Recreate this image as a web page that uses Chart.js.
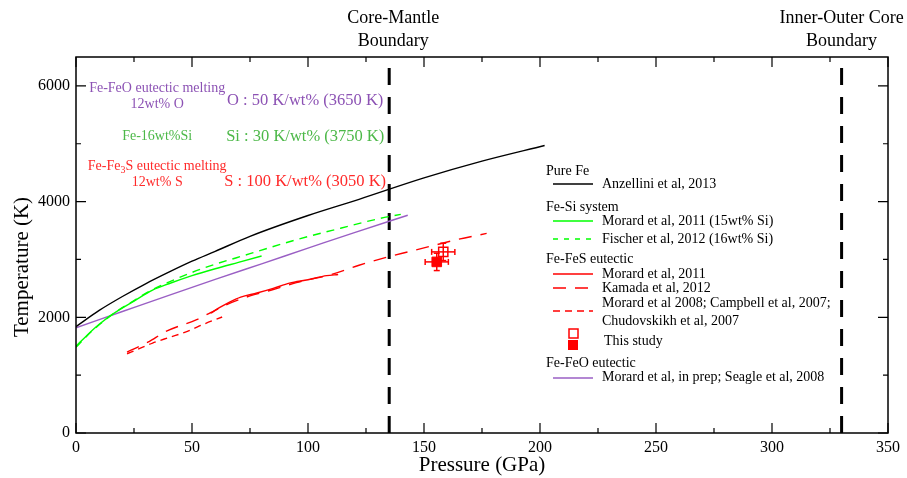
<!DOCTYPE html>
<html>
<head>
<meta charset="utf-8">
<script src="https://cdn.jsdelivr.net/npm/chart.js@4"></script>
<style>
  html, body { margin: 0; background: #fff; }
</style>
</head>
<body>
<canvas id="chart" width="907" height="478"></canvas>
<script>
// --- data (pressure in GPa, temperature in K) ---
const anzelliniP = [0, 10, 20, 30, 40, 50, 60, 75, 100, 122, 150, 175, 202];
const anzelliniT = [1840, 2120, 2360, 2580, 2780, 2970, 3140, 3400, 3760, 4040, 4410, 4700, 4970];

const morardSiP = [0, 5, 10, 16, 25, 33, 40, 50, 60, 70, 80];
const morardSiT = [1500, 1700, 1880, 2060, 2280, 2470, 2580, 2720, 2840, 2950, 3060];

const fischerSiP = [0, 5, 10, 16, 25, 33, 40, 55, 75, 94, 114, 130, 140];
const fischerSiT = [1480, 1690, 1870, 2060, 2290, 2480, 2610, 2850, 3100, 3330, 3540, 3700, 3780];

const morardFeSP = [58, 62, 66, 71, 78, 85, 92, 100, 108, 113];
const morardFeST = [2070, 2170, 2260, 2350, 2420, 2500, 2590, 2650, 2720, 2740];

const kamadaP = [22, 31, 39, 52, 58, 65, 75, 85, 95, 110, 122, 134, 144, 155, 165, 177];
const kamadaT = [1400, 1570, 1760, 1960, 2080, 2220, 2370, 2480, 2600, 2740, 2900, 3040, 3140, 3250, 3350, 3450];

const morard2008P = [22, 28, 33, 40, 48, 55, 63];
const morard2008T = [1370, 1470, 1554, 1650, 1756, 1880, 2005];

const feoP = [0, 20, 40, 60, 80, 100, 120, 143];
const feoT = [1820, 2100, 2380, 2655, 2925, 3195, 3465, 3765];

// this study: [open square, filled square]
const studyP = [158.3, 155.5];
const studyT = [3131, 2958];
const studyErrP = [5, 5];
const studyErrT = [150, 150];

const boundaryP = [135, 330];
const boundaryLabels = [['Core-Mantle', 'Boundary'], ['Inner-Outer Core', 'Boundary']];

const xTicks = [0, 50, 100, 150, 200, 250, 300, 350];
const yTicks = [0, 2000, 4000, 6000];

const SERIF = '"Liberation Serif", "Times New Roman", serif';
const RED = '#ff0000', GREEN = '#00ff00', PURPLE = '#9a5fc4';

const xy = (ps, ts) => ps.map((p, i) => ({ x: p, y: ts[i] }));

function curve(data, color, dash) {
  return {
    data, showLine: true, borderColor: color, borderWidth: 1.4,
    borderDash: dash || [], pointRadius: 0, cubicInterpolationMode: 'monotone'
  };
}

const datasets = [
  curve(xy(anzelliniP, anzelliniT), '#000'),
  curve(xy(morardSiP, morardSiT), GREEN),
  curve(xy(fischerSiP, fischerSiT), GREEN, [8, 6]),
  curve(xy(feoP, feoT), PURPLE),
  curve(xy(morardFeSP, morardFeST), RED),
  curve(xy(kamadaP, kamadaT), RED, [13, 9]),
  curve(xy(morard2008P, morard2008T), RED, [7, 5]),
];

// boundary lines
boundaryP.forEach(p => datasets.push({
  data: [{ x: p, y: 0 }, { x: p, y: 6500 }], showLine: true, borderColor: '#000',
  borderWidth: 3, borderDash: [17, 12], pointRadius: 0
}));

// error bars
studyP.forEach((p, i) => {
  datasets.push({
    data: [{ x: p - studyErrP[i], y: studyT[i] }, { x: p + studyErrP[i], y: studyT[i] }],
    showLine: true, borderColor: RED, borderWidth: 1.5,
    pointStyle: 'line', pointRotation: 90, pointRadius: 3, pointBorderColor: RED, pointBorderWidth: 1.5
  });
  datasets.push({
    data: [{ x: p, y: studyT[i] - studyErrT[i] }, { x: p, y: studyT[i] + studyErrT[i] }],
    showLine: true, borderColor: RED, borderWidth: 1.5,
    pointStyle: 'line', pointRotation: 0, pointRadius: 3, pointBorderColor: RED, pointBorderWidth: 1.5
  });
});
datasets.push({
  data: [{ x: studyP[0], y: studyT[0] }], pointStyle: 'rect', pointRadius: 6.5,
  pointBackgroundColor: 'rgba(0,0,0,0)', pointBorderColor: RED, pointBorderWidth: 1.5
});
datasets.push({
  data: [{ x: studyP[1], y: studyT[1] }], pointStyle: 'rect', pointRadius: 6.8,
  pointBackgroundColor: RED, pointBorderColor: RED, pointBorderWidth: 1
});

// frame with inward ticks on all sides
const frameTicks = {
  id: 'frameTicks',
  afterDatasetsDraw(chart) {
    const { ctx, chartArea: a, scales: { x, y } } = chart;
    ctx.save();
    ctx.strokeStyle = '#000';
    ctx.lineWidth = 1.5;
    ctx.strokeRect(a.left, a.top, a.right - a.left, a.bottom - a.top);
    ctx.lineWidth = 1.2;
    ctx.beginPath();
    for (let v = 0; v <= 350; v += 25) {
      const px = x.getPixelForValue(v), len = v % 50 === 0 ? 10 : 5;
      ctx.moveTo(px, a.bottom); ctx.lineTo(px, a.bottom - len);
      ctx.moveTo(px, a.top); ctx.lineTo(px, a.top + len);
    }
    for (let v = 0; v <= 6000; v += 1000) {
      const py = y.getPixelForValue(v), len = v % 2000 === 0 ? 10 : 5;
      ctx.moveTo(a.left, py); ctx.lineTo(a.left + len, py);
      ctx.moveTo(a.right, py); ctx.lineTo(a.right - len, py);
    }
    ctx.stroke();
    ctx.restore();
  }
};

function text(ctx, str, x, y, size, color, align) {
  ctx.font = size + 'px ' + SERIF;
  ctx.fillStyle = color;
  ctx.textAlign = align || 'center';
  ctx.textBaseline = 'middle';
  ctx.fillText(str, x, y);
}

const labels = {
  id: 'labels',
  afterDraw(chart) {
    const { ctx, scales: { x, y } } = chart;
    ctx.save();
    // boundary captions
    boundaryP.forEach((p, i) => {
      const px = x.getPixelForValue(p) + (i === 0 ? 4 : 0);
      text(ctx, boundaryLabels[i][0], px, 18, 18, '#000');
      text(ctx, boundaryLabels[i][1], px, 41, 18, '#000');
    });
    // y axis title
    ctx.save();
    ctx.translate(22, 267);
    ctx.rotate(-Math.PI / 2);
    text(ctx, 'Temperature (K)', 0, 0, 21, '#000');
    ctx.restore();

    // annotations
    const cx = x.getPixelForValue(35), rx = x.getPixelForValue(98.8);
    const violet = '#8c52b4', green = '#4cb848', red = '#ff2a2a';
    text(ctx, 'Fe-FeO eutectic melting', cx, y.getPixelForValue(5962), 14, violet);
    text(ctx, '12wt% O', cx, y.getPixelForValue(5685), 14, violet);
    text(ctx, 'O : 50 K/wt% (3650 K)', rx, y.getPixelForValue(5737), 16.5, violet);
    text(ctx, 'Fe-16wt%Si', cx, y.getPixelForValue(5130), 14, green);
    text(ctx, 'Si : 30 K/wt% (3750 K)', rx, y.getPixelForValue(5130), 16.5, green);
    // Fe-Fe3S with subscript
    const ys = y.getPixelForValue(4610);
    ctx.font = '14px ' + SERIF;
    const a = 'Fe-Fe', b = 'S eutectic melting';
    const wa = ctx.measureText(a).width, wb = ctx.measureText(b).width;
    ctx.font = '10px ' + SERIF;
    const ws = ctx.measureText('3').width;
    let sx = cx - (wa + ws + wb) / 2;
    text(ctx, a, sx, ys, 14, red, 'left');
    text(ctx, '3', sx + wa, ys + 4, 10, red, 'left');
    text(ctx, b, sx + wa + ws, ys, 14, red, 'left');
    text(ctx, '12wt% S', cx, y.getPixelForValue(4333), 14, red);
    text(ctx, 'S : 100 K/wt% (3050 K)', rx, y.getPixelForValue(4350), 16.5, red);

    // legend
    const hx = 546, lx0 = 553, lx1 = 593, tx = 602, fs = 14;
    const sample = (yy, color, dash) => {
      ctx.save();
      ctx.strokeStyle = color; ctx.lineWidth = 1.4; ctx.setLineDash(dash || []);
      ctx.beginPath(); ctx.moveTo(lx0, yy); ctx.lineTo(lx1, yy); ctx.stroke();
      ctx.restore();
    };
    text(ctx, 'Pure Fe', hx, 171, fs, '#000', 'left');
    sample(184, '#000'); text(ctx, 'Anzellini et al, 2013', tx, 184, fs, '#000', 'left');
    text(ctx, 'Fe-Si system', hx, 207, fs, '#000', 'left');
    sample(221, GREEN); text(ctx, 'Morard et al, 2011 (15wt% Si)', tx, 221, fs, '#000', 'left');
    sample(239, GREEN, [5, 6]); text(ctx, 'Fischer et al, 2012 (16wt% Si)', tx, 239, fs, '#000', 'left');
    text(ctx, 'Fe-FeS eutectic', hx, 259, fs, '#000', 'left');
    sample(274, RED); text(ctx, 'Morard et al, 2011', tx, 274, fs, '#000', 'left');
    sample(288, RED, [13, 9]); text(ctx, 'Kamada et al, 2012', tx, 288, fs, '#000', 'left');
    sample(311, RED, [7, 5]);
    text(ctx, 'Morard et al 2008; Campbell et al, 2007;', tx, 303, fs, '#000', 'left');
    text(ctx, 'Chudovskikh et al, 2007', tx, 321, fs, '#000', 'left');
    ctx.strokeStyle = RED; ctx.lineWidth = 1.5;
    ctx.strokeRect(569, 329, 9, 9);
    ctx.fillStyle = RED; ctx.fillRect(568, 340, 10, 10);
    text(ctx, 'This study', 604, 341, fs, '#000', 'left');
    text(ctx, 'Fe-FeO eutectic', hx, 363, fs, '#000', 'left');
    sample(378, PURPLE); text(ctx, 'Morard et al, in prep; Seagle et al, 2008', tx, 377, fs, '#000', 'left');
    ctx.restore();
  }
};

new Chart(document.getElementById('chart'), {
  type: 'scatter',
  data: { datasets },
  options: {
    responsive: false,
    animation: false,
    layout: { padding: { top: 57, right: 19, left: 0, bottom: 0 } },
    plugins: { legend: { display: false }, tooltip: { enabled: false } },
    scales: {
      x: {
        type: 'linear', min: 0, max: 350,
        afterBuildTicks: s => { s.ticks = xTicks.map(v => ({ value: v })); },
        afterFit: s => { s.height = 45; },
        grid: { display: false, drawTicks: false },
        border: { display: false },
        ticks: { color: '#000', padding: 5, font: { family: SERIF, size: 16 }, callback: v => String(v) },
        title: {
          display: true, text: 'Pressure (GPa)', color: '#000',
          font: { family: SERIF, size: 21 }, padding: { top: 0, bottom: 0 }
        }
      },
      y: {
        type: 'linear', min: 0, max: 6500,
        afterBuildTicks: s => { s.ticks = yTicks.map(v => ({ value: v })); },
        afterFit: s => { s.width = 76; },
        grid: { display: false, drawTicks: false },
        border: { display: false },
        ticks: { color: '#000', padding: 6, font: { family: SERIF, size: 16 }, callback: v => String(v) }
      }
    }
  },
  plugins: [frameTicks, labels]
});
</script>
</body>
</html>
